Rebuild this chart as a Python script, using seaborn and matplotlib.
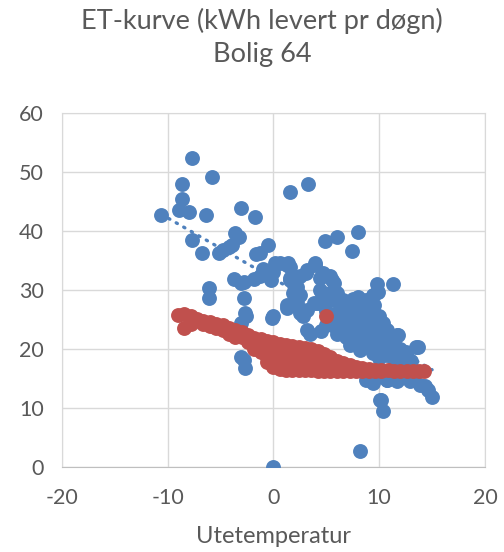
import numpy as np
import pandas as pd
import seaborn as sns
import matplotlib.pyplot as plt

# blue series: measured kWh per day vs outdoor temperature
blue_x = [-10.6, -7.65, -8.6, -8.6, -8.9, -8.0, -5.8, -6.4, -7.65, -6.7, -5.1, -4.8, -4.2, -3.9,
          -3.1, -3.6, -3.2, -1.7, -1.6, -1.25, -0.5, 1.6, 3.3, -3.7, -3.1, -1.8, -1.25, -1.0,
          -0.5, 0.2, 0.0, -0.2, 1.4, 1.6, 1.6, 2.2, 2.5, 3.1, 3.9, 4.4, 5.5, 5.7, 4.9, 6.0,
          8.0, 7.4, 9.8, 11.3, -6.1, -6.1, -2.8, -2.6, -3.1, -2.8, -2.7, -0.1, 1.3, 2.2,
          1.9, 2.4, 2.5, 3.5, 4.4, 5.4, 5.7, 11.8, 13.7, 12.3, 10.2, 10.4, 15.0, 14.3, 14.6,
          8.2, 0.0, 9.6, 10.7, 13.2, 9.8, 9.1, 8.5, 5.4, 5.7, 6.0, 6.6, 7.55, 7.9, 7.2, 6.3,
          5.7, 8.5, 9.4, 10.4, 10.7, 11.65, 13.5, 9.8, 8.8, 10.1, 11.0, 11.65, 12.3, 7.55,
          6.9, 8.2, 9.4, 10.7, 4.7, 4.4, 4.7, 6.0, 0.6, 1.3, 3.9, -0.3, -2.8, 1.6, 3.15,
          2.05, 2.5, -2.7, 0.0, 1.3, 1.9, 3.15, 2.8, 4.1, 4.6, -3.1, 12.6, 8.5, 7.2, 9.4,
          11.65, 12.9, 13.85, 10.1, 8.8, 3.15, 3.8, 5.7, 7.2, 7.55, 12.3, 8.8, 10.7, 6.6,
          8.2, 8.8, 9.4, 9.9,
          6.5, 7.0, 8.0, 8.5, 9.0, 7.5, 8.0, 9.0, 9.5, 10.0, 10.5, 9.0, 9.5, 10.5, 11.0,
          11.5, 12.0, 11.0, 12.5, 6.5, 7.0, 8.0, 7.5, 6.0, 5.5, 5.0, 4.5, 5.0, 6.5, 7.5,
          8.0, 9.5, 10.0, 10.0, 11.5, 12.5, 13.0, 9.0, 11.0, 12.0]
blue_y = [42.6, 52.4, 48.0, 45.4, 43.5, 43.2, 49.1, 42.6, 38.5, 36.3, 36.2, 36.8, 37.3, 37.6,
          43.8, 39.6, 39.0, 42.4, 36.1, 36.3, 37.6, 46.5, 48.0, 31.9, 31.2, 31.8, 32.3, 33.5,
          33.0, 34.5, 33.1, 31.6, 34.5, 33.9, 32.0, 30.5, 32.3, 32.8, 34.2, 32.0, 31.7, 30.0,
          38.2, 39.0, 39.8, 36.5, 31.0, 31.0, 30.3, 28.6, 28.6, 25.6, 18.7, 18.1, 16.7, 25.3,
          27.5, 27.8, 29.4, 29.1, 26.0, 22.6, 27.8, 29.4, 28.3, 22.4, 20.4, 18.7, 11.4, 9.4,
          11.9, 13.7, 13.1, 2.7, 0.05, 15.1, 14.8, 15.0, 29.7, 28.3, 27.2, 32.3, 31.1, 29.4,
          28.3, 27.7, 26.0, 24.9, 24.4, 23.8, 23.8, 24.9, 24.4, 23.2, 22.4, 20.4, 22.1, 21.5,
          20.7, 20.4, 19.8, 19.0, 22.7, 22.1, 19.8, 19.3, 19.0, 32.8, 30.0, 27.7, 26.0, 34.5,
          34.2, 34.5, 32.8, 31.4, 31.7, 33.4, 30.3, 29.2, 26.0, 25.5, 26.9, 27.5, 26.6, 25.5,
          27.7, 29.4, 24.4, 18.7, 21.0, 20.7, 14.2, 14.5, 14.5, 13.9, 11.4, 14.7, 23.2, 27.7,
          28.9, 27.2, 23.2, 18.1, 15.9, 14.7, 27.2, 27.7, 28.3, 29.2, 29.7,
          25.5, 26.0, 25.0, 25.5, 26.5, 24.0, 23.0, 23.5, 22.5, 23.0, 22.0, 20.5, 21.0, 21.0,
          21.5, 20.5, 20.0, 19.0, 19.5, 23.0, 23.5, 21.0, 21.5, 22.5, 25.0, 24.0, 23.0, 26.5,
          26.8, 28.5, 28.8, 27.5, 25.5, 18.5, 18.0, 17.5, 18.0, 15.0, 15.2, 15.0]

# red series: model values
red_x = [-9.0, -8.4, -8.4, -7.8, -7.8, -7.2, -6.6, -6.6, -6.0, -6.0, -5.4, -5.4, -4.8, -4.8,
         -4.2, -4.2, -3.6, -3.6, -3.0, -3.0, -2.4, -2.4, -1.8, -1.8, -1.8, -1.2, -1.2, -1.2,
         -0.6, -0.6, -0.6, -0.6, 0.0, 0.0, 0.0, 0.0, 0.6, 0.6, 0.6, 0.6, 1.2, 1.2, 1.2, 1.2,
         1.8, 1.8, 1.8, 1.8, 2.4, 2.4, 2.4, 2.4, 3.0, 3.0, 3.0, 3.0, 3.6, 3.6, 3.6, 3.6,
         4.2, 4.2, 4.2, 4.2, 4.8, 4.8, 4.8, 4.8, 5.4, 5.4, 5.4, 6.0, 6.0, 6.0, 6.6, 6.6, 6.6,
         7.2, 7.2, 7.2, 7.8, 7.8, 8.4, 8.4, 9.0, 9.0, 9.6, 9.6, 10.2, 10.2, 10.8, 11.4, 12.0,
         12.6, 13.2, 13.8, 14.2, 4.98]
red_y = [25.8, 25.9, 23.6, 25.5, 24.2, 25.0, 24.8, 24.2, 24.5, 23.9, 24.3, 23.6, 24.0, 23.2,
         23.6, 22.6, 23.2, 22.1, 22.8, 22.0, 22.4, 21.2, 21.9, 20.7, 19.9, 21.6, 20.4, 19.4,
         21.3, 20.0, 18.6, 17.8, 21.1, 19.8, 18.3, 17.0, 20.9, 19.6, 18.2, 16.6, 20.7, 19.4,
         18.1, 16.4, 20.5, 19.2, 17.9, 16.4, 20.3, 19.0, 17.8, 16.4, 20.1, 18.9, 17.6, 16.4,
         19.9, 18.7, 17.5, 16.4, 19.6, 18.5, 17.3, 16.3, 19.2, 18.2, 17.1, 16.3, 18.6, 17.6,
         16.3, 18.0, 17.2, 16.3, 17.6, 16.9, 16.2, 17.2, 16.6, 16.2, 17.0, 16.2, 16.7, 16.2,
         16.6, 16.2, 16.5, 16.2, 16.4, 16.2, 16.4, 16.3, 16.3, 16.2, 16.2, 16.2, 16.2, 25.5]

x_ticks = [-20, -10, 0, 10, 20]
y_ticks = [0, 10, 20, 30, 40, 50, 60]

blue = "#4F81BD"
red = "#C0504D"
grey_txt = "#595959"

df_blue = pd.DataFrame({"temp": blue_x, "kwh": blue_y})
df_red = pd.DataFrame({"temp": red_x, "kwh": red_y})

sns.set_style("white")
plt.rcParams["font.family"] = ["Lato", "DejaVu Sans"]
plt.rcParams["axes.unicode_minus"] = False

fig = plt.figure(figsize=(5.04, 5.52), dpi=100)
ax = fig.add_axes([0.1224, 0.154, 0.8399, 0.6418])

sns.scatterplot(data=df_blue, x="temp", y="kwh", color=blue, s=115, linewidth=0, ax=ax, zorder=3)
sns.regplot(data=df_blue, x="temp", y="kwh", scatter=False, ci=None, ax=ax,
            line_kws={"color": blue, "lw": 2.4, "linestyle": (0, (0.4, 2.2)),
                      "dash_capstyle": "round", "zorder": 4})
sns.scatterplot(data=df_red, x="temp", y="kwh", color=red, s=115, linewidth=0, ax=ax, zorder=5)

ax.set_xlim(-20, 20)
ax.set_ylim(0, 60)
ax.set_xticks(x_ticks)
ax.set_yticks(y_ticks)
ax.grid(True, color="#D9D9D9", lw=1.0)
ax.set_axisbelow(True)
for side in ["top", "right", "left"]:
    ax.spines[side].set_color("#D9D9D9")
ax.spines["bottom"].set_color("#BFBFBF")
ax.tick_params(length=0, labelsize=15.5, labelcolor=grey_txt)
ax.tick_params(axis="x", pad=15)
ax.tick_params(axis="y", pad=13)
ax.set_xlabel("Utetemperatur", fontsize=17, color=grey_txt, labelpad=13)
ax.set_ylabel("")

fig.text(0.52, 0.985, "ET-kurve (kWh levert pr døgn)\nBolig 64", ha="center", va="top",
         fontsize=19.5, color=grey_txt, linespacing=1.4)

fig.savefig("out.png", dpi=100, facecolor="white")
